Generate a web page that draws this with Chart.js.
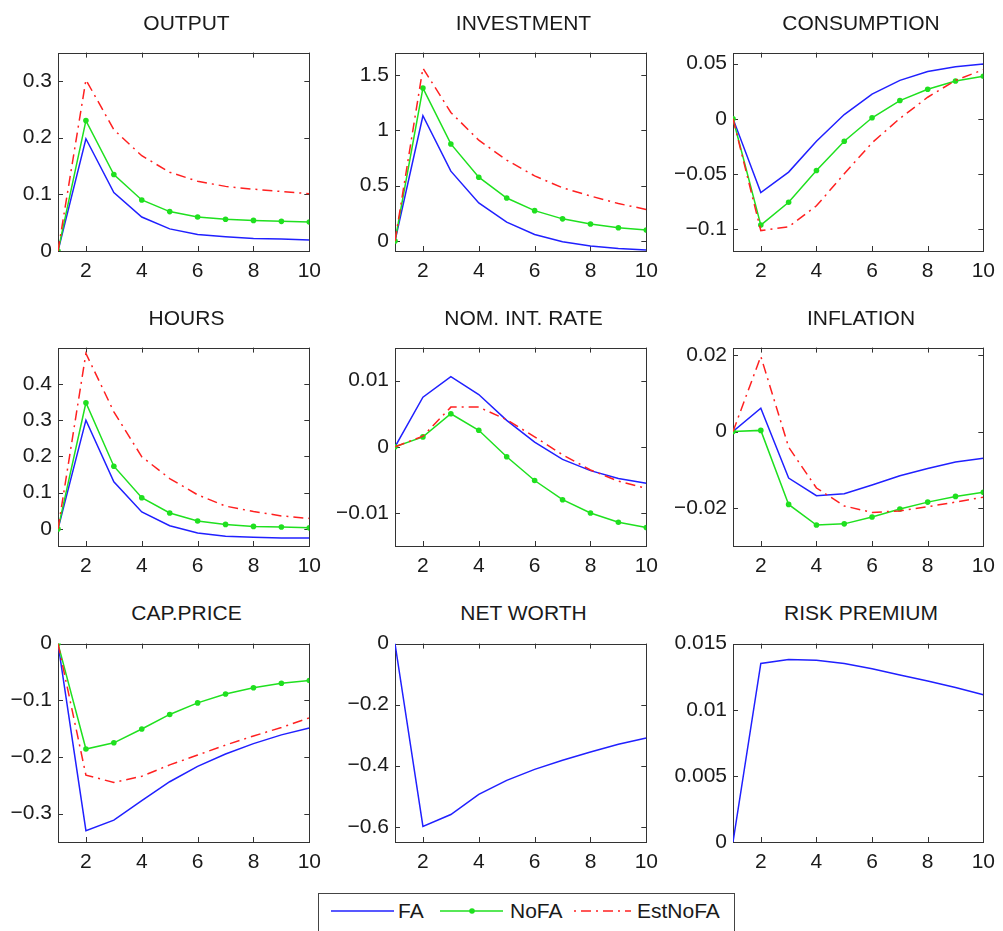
<!DOCTYPE html>
<html>
<head>
<meta charset="utf-8">
<script src="https://cdn.jsdelivr.net/npm/chart.js@4.4.0/dist/chart.umd.min.js"></script>
<style>
  body { margin: 0; background: #fff; width: 1003px; height: 931px; overflow: hidden; position: relative; font-family: "Liberation Sans", Arial, sans-serif; }
  canvas { position: absolute; }
  .titel { position: absolute; font-size: 21px; color: #1a1a1a; text-align: center; white-space: nowrap; transform: translate(-50%, -50%); }
  #legende { position: absolute; left: 318px; top: 893px; width: 417px; height: 60px; border: 1px solid #444; box-sizing: border-box; }
  .eintrag { position: absolute; top: 4px; font-size: 21px; color: #1a1a1a; line-height: 26px; }
  .eintrag svg { position: absolute; top: 0; }
</style>
</head>
<body>

<div id="legende">
  <div class="eintrag" style="left:12px"><svg width="64" height="26"><line x1="0" y1="13" x2="63" y2="13" stroke="#2020ff" stroke-width="1.5"/></svg><span style="position:absolute;left:67px">FA</span></div>
  <div class="eintrag" style="left:121px"><svg width="64" height="26"><line x1="0" y1="13" x2="63" y2="13" stroke="#1fe01f" stroke-width="1.5"/><circle cx="32" cy="13" r="2.8" fill="#1fe01f"/></svg><span style="position:absolute;left:70px">NoFA</span></div>
  <div class="eintrag" style="left:255px"><svg width="58" height="26"><line x1="0" y1="13" x2="57" y2="13" stroke="#ff2020" stroke-width="1.5" stroke-dasharray="2 5 10 5"/></svg><span style="position:absolute;left:63px">EstNoFA</span></div>
</div>

<script>
// Perioden (x-Achse)
const perioden = [1, 2, 3, 4, 5, 6, 7, 8, 9, 10];
const xTicks = [2, 4, 6, 8, 10];

// OUTPUT
const outputFA = [0, 0.198, 0.103, 0.060, 0.039, 0.029, 0.025, 0.022, 0.021, 0.0195];
const outputNoFA = [0, 0.230, 0.135, 0.090, 0.0695, 0.060, 0.056, 0.054, 0.0523, 0.051];
const outputEst = [0, 0.302, 0.214, 0.168, 0.139, 0.123, 0.114, 0.109, 0.105, 0.101];
const outputTicks = [0, 0.1, 0.2, 0.3];

// INVESTMENT
const investFA = [0, 1.13, 0.63, 0.344, 0.17, 0.059, -0.006, -0.044, -0.068, -0.082];
const investNoFA = [0, 1.38, 0.876, 0.576, 0.388, 0.274, 0.20, 0.153, 0.12, 0.10];
const investEst = [0, 1.56, 1.16, 0.91, 0.73, 0.588, 0.48, 0.406, 0.338, 0.285];
const investTicks = [0, 0.5, 1, 1.5];

// CONSUMPTION
const konsumFA = [0, -0.067, -0.0484, -0.0204, 0.0038, 0.0224, 0.0348, 0.0428, 0.0472, 0.0496];
const konsumNoFA = [0, -0.0965, -0.0758, -0.0469, -0.0204, 0.0009, 0.0165, 0.0268, 0.0342, 0.0386];
const konsumEst = [0, -0.1015, -0.098, -0.079, -0.050, -0.0218, 0.0003, 0.0195, 0.0348, 0.0445];
const konsumTicks = [-0.1, -0.05, 0, 0.05];

// HOURS
const stundenFA = [0, 0.30, 0.130, 0.047, 0.009, -0.011, -0.020, -0.023, -0.025, -0.025];
const stundenNoFA = [0, 0.348, 0.173, 0.086, 0.044, 0.022, 0.0126, 0.007, 0.0054, 0.003];
const stundenEst = [0, 0.484, 0.323, 0.199, 0.139, 0.094, 0.063, 0.048, 0.036, 0.029];
const stundenTicks = [0, 0.1, 0.2, 0.3, 0.4];

// NOM. INT. RATE
const zinsFA = [0, 0.0075, 0.0106, 0.0079, 0.0040, 0.0007, -0.0019, -0.0036, -0.0048, -0.0055];
const zinsNoFA = [0, 0.0015, 0.005, 0.0025, -0.0015, -0.0051, -0.008, -0.010, -0.0114, -0.0122];
const zinsEst = [0, 0.0016, 0.006, 0.006, 0.0041, 0.0015, -0.0012, -0.0035, -0.0052, -0.0063];
const zinsTicks = [-0.01, 0, 0.01];

// INFLATION
const inflFA = [0, 0.0061, -0.0122, -0.0168, -0.0163, -0.014, -0.0116, -0.0097, -0.008, -0.007];
const inflNoFA = [0, 0.0003, -0.0191, -0.0245, -0.0242, -0.0224, -0.0203, -0.0185, -0.017, -0.0159];
const inflEst = [0, 0.0197, -0.0041, -0.0148, -0.0195, -0.0212, -0.0208, -0.0197, -0.0185, -0.0172];
const inflTicks = [-0.02, 0, 0.02];

// CAP.PRICE
const preisFA = [0, -0.330, -0.3115, -0.277, -0.2437, -0.2167, -0.1948, -0.1764, -0.161, -0.149];
const preisNoFA = [0, -0.186, -0.175, -0.1506, -0.125, -0.1046, -0.089, -0.078, -0.070, -0.065];
const preisEst = [0, -0.232, -0.245, -0.234, -0.214, -0.1966, -0.179, -0.163, -0.148, -0.131];
const preisTicks = [-0.3, -0.2, -0.1, 0];

// NET WORTH
const vermoegenFA = [0, -0.599, -0.560, -0.494, -0.448, -0.412, -0.382, -0.355, -0.330, -0.309];
const vermoegenTicks = [-0.6, -0.4, -0.2, 0];

// RISK PREMIUM
const risikoFA = [0, 0.0135, 0.0138, 0.01374, 0.0135, 0.0131, 0.01262, 0.01218, 0.01168, 0.01114];
const risikoTicks = [0, 0.005, 0.01, 0.015];

// Panels zusammenstellen
const panels = [
  { titel: "OUTPUT", fa: outputFA, nofa: outputNoFA, est: outputEst, min: 0, max: 0.35, ticks: outputTicks },
  { titel: "INVESTMENT", fa: investFA, nofa: investNoFA, est: investEst, min: -0.09, max: 1.7, ticks: investTicks },
  { titel: "CONSUMPTION", fa: konsumFA, nofa: konsumNoFA, est: konsumEst, min: -0.12, max: 0.06, ticks: konsumTicks },
  { titel: "HOURS", fa: stundenFA, nofa: stundenNoFA, est: stundenEst, min: -0.047, max: 0.5, ticks: stundenTicks },
  { titel: "NOM. INT. RATE", fa: zinsFA, nofa: zinsNoFA, est: zinsEst, min: -0.015, max: 0.015, ticks: zinsTicks },
  { titel: "INFLATION", fa: inflFA, nofa: inflNoFA, est: inflEst, min: -0.03, max: 0.022, ticks: inflTicks },
  { titel: "CAP.PRICE", fa: preisFA, nofa: preisNoFA, est: preisEst, min: -0.35, max: 0, ticks: preisTicks },
  { titel: "NET WORTH", fa: vermoegenFA, nofa: null, est: null, min: -0.65, max: 0, ticks: vermoegenTicks },
  { titel: "RISK PREMIUM", fa: risikoFA, nofa: null, est: null, min: 0, max: 0.015, ticks: risikoTicks }
];

// Position der Plotflaechen
const spalteLinks = [58, 395, 733];
const spalteRechts = [315, 652, 989];
const zeileOben = [48, 343, 639];
const zeileUnten = [251, 546, 842];
const titelY = [23, 318, 613];

const yBreite = 58;
const xHoehe = 40;
const padOben = 14;
const padRechts = 14;

function punkte(werte) {
  return perioden.map(function (p, i) {
    return { x: p, y: werte[i] };
  });
}

function formatZahl(v) {
  let s = String(Math.round(v * 100000) / 100000);
  return s.replace("-", "\u2212");
}

// Rahmen mit Tickstrichen nach innen (wie MATLAB)
const rahmenPlugin = {
  id: "rahmen",
  beforeDatasetsDraw(chart) {
    const ctx = chart.ctx;
    const a = chart.chartArea;
    const xs = chart.scales.x;
    const ys = chart.scales.y;
    ctx.save();
    ctx.strokeStyle = "#333";
    ctx.lineWidth = 1;
    ctx.strokeRect(Math.round(a.left) + 0.5, Math.round(a.top) + 0.5, Math.round(a.right - a.left), Math.round(a.bottom - a.top));
    ctx.beginPath();
    xs.ticks.forEach(function (t) {
      const px = Math.round(xs.getPixelForValue(t.value)) + 0.5;
      ctx.moveTo(px, a.bottom);
      ctx.lineTo(px, a.bottom - 5);
      ctx.moveTo(px, a.top);
      ctx.lineTo(px, a.top + 5);
    });
    ys.ticks.forEach(function (t) {
      const py = Math.round(ys.getPixelForValue(t.value)) + 0.5;
      ctx.moveTo(a.left, py);
      ctx.lineTo(a.left + 5, py);
      ctx.moveTo(a.right, py);
      ctx.lineTo(a.right - 5, py);
    });
    ctx.stroke();
    ctx.restore();
  }
};

panels.forEach(function (panel, i) {
  const spalte = i % 3;
  const zeile = Math.floor(i / 3);
  const L = spalteLinks[spalte];
  const R = spalteRechts[spalte];
  const T = zeileOben[zeile];
  const B = zeileUnten[zeile];

  const canvas = document.createElement("canvas");
  const breite = yBreite + (R - L) + padRechts;
  const hoehe = padOben + (B - T) + xHoehe;
  canvas.width = breite;
  canvas.height = hoehe;
  canvas.style.left = (L - yBreite) + "px";
  canvas.style.top = (T - padOben) + "px";
  canvas.style.width = breite + "px";
  canvas.style.height = hoehe + "px";
  document.body.appendChild(canvas);

  const titel = document.createElement("div");
  titel.className = "titel";
  titel.textContent = panel.titel;
  titel.style.left = ((L + R) / 2) + "px";
  titel.style.top = titelY[zeile] + "px";
  document.body.appendChild(titel);

  const datasets = [
    {
      label: "FA",
      data: punkte(panel.fa),
      borderColor: "#2020ff",
      borderWidth: 1.5,
      pointRadius: 0,
      tension: 0
    }
  ];
  if (panel.nofa) {
    datasets.push({
      label: "NoFA",
      data: punkte(panel.nofa),
      borderColor: "#1fe01f",
      backgroundColor: "#1fe01f",
      borderWidth: 1.5,
      pointRadius: 2.8,
      pointBorderWidth: 0,
      tension: 0
    });
  }
  if (panel.est) {
    datasets.push({
      label: "EstNoFA",
      data: punkte(panel.est),
      borderColor: "#ff2020",
      borderWidth: 1.5,
      borderDash: [10, 5, 2, 5],
      pointRadius: 0,
      tension: 0
    });
  }
  // Reihenfolge wie im Original: rot unten, dann gruen, blau oben
  datasets.reverse();

  const yTickWerte = panel.ticks;

  new Chart(canvas, {
    type: "line",
    data: { datasets: datasets },
    options: {
      responsive: false,
      animation: false,
      devicePixelRatio: 1,
      layout: { padding: { top: padOben, right: padRechts, left: 0, bottom: 0 } },
      plugins: { legend: { display: false }, tooltip: { enabled: false }, title: { display: false } },
      scales: {
        x: {
          type: "linear",
          min: 1,
          max: 10,
          grid: { display: false, drawTicks: false },
          border: { display: false },
          ticks: {
            padding: 8,
            color: "#1a1a1a",
            font: { family: "Liberation Sans", size: 21 },
            maxRotation: 0,
            autoSkip: false,
            callback: function (v) { return formatZahl(v); }
          },
          afterBuildTicks: function (scale) {
            scale.ticks = xTicks.map(function (v) { return { value: v }; });
          },
          afterFit: function (scale) { scale.height = xHoehe; }
        },
        y: {
          type: "linear",
          min: panel.min,
          max: panel.max,
          grid: { display: false, drawTicks: false },
          border: { display: false },
          ticks: {
            padding: 6,
            color: "#1a1a1a",
            font: { family: "Liberation Sans", size: 21 },
            autoSkip: false,
            callback: function (v) { return formatZahl(v); }
          },
          afterBuildTicks: function (scale) {
            scale.ticks = yTickWerte.map(function (v) { return { value: v }; });
          },
          afterFit: function (scale) { scale.width = yBreite; }
        }
      }
    },
    plugins: [rahmenPlugin]
  });
});
</script>
</body>
</html>
